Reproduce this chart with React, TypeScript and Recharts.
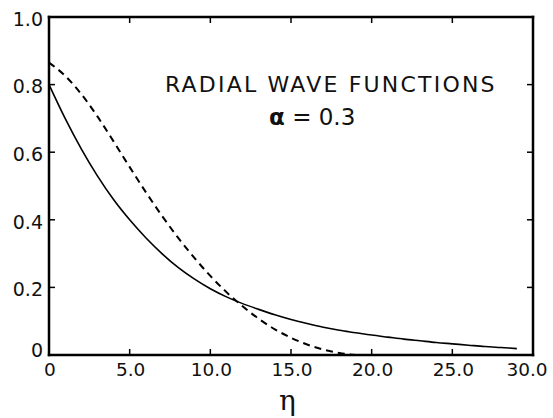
import { LineChart, Line, XAxis, YAxis, ReferenceLine } from "recharts";

// eta values sampled along the abscissa
const etaValues = [
  0, 1, 2, 3, 4, 5, 6, 7, 8, 9, 10, 11, 12, 13, 14, 15,
  16, 17, 18, 19, 20, 21, 22, 23, 24, 25, 26, 27, 28, 29,
];

// solid curve
const solidValues = [
  0.8, 0.7, 0.61, 0.53, 0.46, 0.4, 0.347, 0.3, 0.259, 0.225, 0.196, 0.172,
  0.152, 0.135, 0.119, 0.105, 0.093, 0.082, 0.073, 0.066, 0.059, 0.053,
  0.047, 0.042, 0.037, 0.033, 0.029, 0.025, 0.022, 0.019,
];

// dashed curve, ends at zero near eta = 19
const dashedValues = [
  0.865, 0.826, 0.772, 0.706, 0.632, 0.556, 0.482, 0.412, 0.347, 0.288, 0.234,
  0.186, 0.144, 0.107, 0.076, 0.051, 0.031, 0.016, 0.006, 0,
];

const xTicks = [0, 5, 10, 15, 20, 25, 30];
const xTickLabels = ["0", "5.0", "10.0", "15.0", "20.0", "25.0", "30.0"];
const yTicks = [0, 0.2, 0.4, 0.6, 0.8, 1.0];
const yTickLabels = ["0", "0.2", "0.4", "0.6", "0.8", "1.0"];

const title = "RADIAL WAVE FUNCTIONS";
const alphaLabel = "= 0.3";

const data = etaValues.map((eta, i) => ({
  eta,
  solid: solidValues[i],
  dashed: i < dashedValues.length ? dashedValues[i] : undefined,
}));

const W = 553;
const H = 418;
const MARGIN = { top: 17, right: 20, bottom: 0, left: 0 };
const X_AXIS_H = 63;
const Y_AXIS_W = 49;
// plot box edges, derived from the margins above
const PLOT_TOP = MARGIN.top;
const PLOT_BOTTOM = H - X_AXIS_H;
const PLOT_LEFT = Y_AXIS_W;
const PLOT_RIGHT = W - MARGIN.right;
const TICK = 6;

const FONT = "'DejaVu Sans', sans-serif";
const INK = "#111";
const frame = { stroke: "#000", strokeWidth: 2.5, strokeLinecap: "square" as const };

function BottomTick({ x, y, payload }: any) {
  const v = payload.value;
  const inner = v !== 0 && v !== 30;
  return (
    <g>
      {inner && (
        <>
          <line x1={x} x2={x} y1={PLOT_BOTTOM} y2={PLOT_BOTTOM - TICK} stroke="#000" strokeWidth={1.5} />
          <line x1={x} x2={x} y1={PLOT_TOP} y2={PLOT_TOP + TICK} stroke="#000" strokeWidth={1.5} />
        </>
      )}
      <text
        x={v === 30 ? x - 6 : x + 1}
        y={y}
        textAnchor="middle"
        fontSize={18.5}
        fontFamily={FONT}
        fill={INK}
      >
        {xTickLabels[xTicks.indexOf(v)]}
      </text>
    </g>
  );
}

function LeftTick({ x, y, payload }: any) {
  const v = payload.value;
  const inner = v !== 0 && v !== 1;
  return (
    <g>
      {inner && (
        <>
          <line x1={PLOT_LEFT} x2={PLOT_LEFT + TICK} y1={y} y2={y} stroke="#000" strokeWidth={1.5} />
          <line x1={PLOT_RIGHT} x2={PLOT_RIGHT - TICK} y1={y} y2={y} stroke="#000" strokeWidth={1.5} />
        </>
      )}
      <text
        x={x}
        y={v === 0 ? y - 5 : y + 2}
        dy="0.36em"
        textAnchor="end"
        fontSize={19}
        fontFamily={FONT}
        fill={INK}
      >
        {yTickLabels[yTicks.indexOf(v)]}
      </text>
    </g>
  );
}

export default function App() {
  return (
    <div style={{ position: "absolute", left: 0, top: 0, width: W, height: H, background: "#fff" }}>
      <LineChart width={W} height={H} data={data} margin={MARGIN}>
        <XAxis
          dataKey="eta"
          type="number"
          domain={[0, 30]}
          ticks={xTicks}
          height={X_AXIS_H}
          axisLine={frame}
          tickLine={false}
          tickSize={0}
          tickMargin={21}
          tick={BottomTick}
          interval={0}
        />
        <YAxis
          type="number"
          domain={[0, 1]}
          ticks={yTicks}
          width={Y_AXIS_W}
          axisLine={frame}
          tickLine={false}
          tickSize={0}
          tickMargin={6}
          tick={LeftTick}
          interval={0}
        />
        {/* top and right edges of the frame */}
        <ReferenceLine y={1} stroke="#000" strokeWidth={2.5} strokeLinecap="square" />
        <ReferenceLine x={30} stroke="#000" strokeWidth={2.5} strokeLinecap="square" />
        <Line
          type="monotone"
          dataKey="solid"
          stroke="#000"
          strokeWidth={1.6}
          dot={false}
          isAnimationActive={false}
        />
        <Line
          type="monotone"
          dataKey="dashed"
          stroke="#000"
          strokeWidth={2}
          strokeDasharray="7 5"
          dot={false}
          isAnimationActive={false}
        />
      </LineChart>

      {/* annotation */}
      <div
        style={{
          position: "absolute", left: 165, top: 72, fontFamily: FONT, fontSize: 22,
          letterSpacing: 2.2, color: INK, whiteSpace: "nowrap", lineHeight: "26px",
        }}
      >
        {title}
      </div>
      <div
        style={{
          position: "absolute", left: 269, top: 104, fontFamily: FONT, fontSize: 23,
          color: INK, whiteSpace: "nowrap", lineHeight: "26px",
        }}
      >
        <b>α</b> {alphaLabel}
      </div>
      <div
        style={{
          position: "absolute", left: 279, top: 386, fontFamily: "'DejaVu Serif', serif",
          fontSize: 28, color: INK, lineHeight: "30px",
        }}
      >
        η
      </div>
    </div>
  );
}
